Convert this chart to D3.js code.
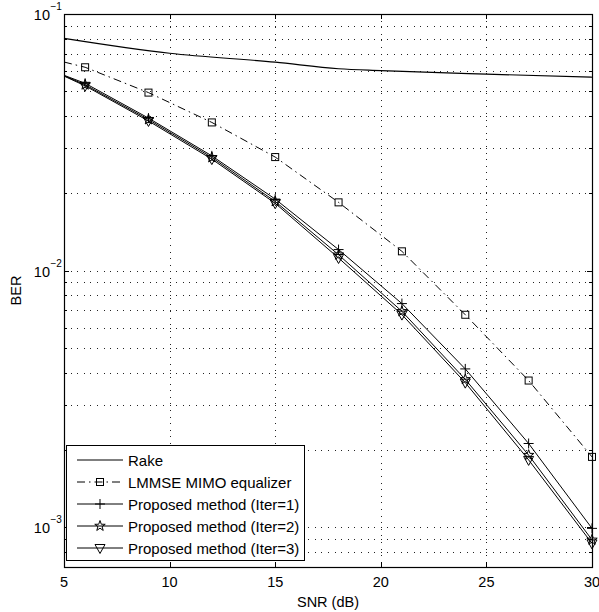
<!DOCTYPE html>
<html><head><meta charset="utf-8">
<script src="https://cdn.jsdelivr.net/npm/d3@7"></script>
<style>body{margin:0;background:#fff}svg{display:block}text{font-family:"Liberation Sans",Arial,sans-serif;fill:#000}</style>
</head><body><svg id="c" width="599" height="612"></svg>
<script>
// ---- data ----
const rakeSNR = [5, 10, 15, 18, 20, 25, 30];
const rakeBER = [0.0804, 0.0703, 0.0649, 0.0612, 0.0602, 0.0583, 0.0567];
const snr = [5, 6, 9, 12, 15, 18, 21, 24, 27, 30];
const lmmseBER = [0.0650, 0.0620, 0.0494, 0.0378, 0.0277, 0.01845, 0.01189, 0.00673, 0.00373, 0.00188];
const iter1BER = [0.0577, 0.0537, 0.0393, 0.0280, 0.0190, 0.01208, 0.00744, 0.00414, 0.00212, 0.00099];
const iter2BER = [0.0575, 0.0530, 0.0388, 0.0276, 0.0186, 0.01153, 0.00694, 0.00377, 0.00191, 0.000893];
const iter3BER = [0.0573, 0.0525, 0.0383, 0.0272, 0.0183, 0.01120, 0.00674, 0.00366, 0.00183, 0.000865];
const xTicks = [5, 10, 15, 20, 25, 30];
const yDecades = [-3, -2, -1];
const legendLabels = ["Rake", "LMMSE MIMO equalizer", "Proposed method (Iter=1)", "Proposed method (Iter=2)", "Proposed method (Iter=3)"];
const xLabel = "SNR (dB)", yLabel = "BER";

// ---- layout ----
const L = 64, R = 592, T = 14, B = 567;
const svg = d3.select("#c");
const x = d3.scaleLinear().domain([5, 30]).range([L, R]);
const y = d3.scaleLog().domain([7e-4, 0.1]).range([B, T]);

// grid
const minorY = [];
[-4, -3, -2].forEach(e => { for (let k = 1; k <= 9; k++) { const v = k * Math.pow(10, e); if (v >= 7e-4 && v <= 0.1) minorY.push(v); } });
const grid = svg.append("g").attr("stroke", "#222").attr("stroke-width", 1).attr("stroke-dasharray", "1,5.6").attr("shape-rendering", "crispEdges");
grid.selectAll("line.gy").data(minorY).join("line").attr("x1", L).attr("x2", R)
  .attr("y1", d => Math.round(y(d)) + 0.5).attr("y2", d => Math.round(y(d)) + 0.5);
grid.selectAll("line.gx").data(xTicks.slice(1, -1)).join("line").attr("y1", T).attr("y2", B)
  .attr("x1", d => Math.round(x(d)) + 0.5).attr("x2", d => Math.round(x(d)) + 0.5);

// axes ticks (inside)
const ax = svg.append("g").attr("stroke", "#000").attr("stroke-width", 1).attr("shape-rendering", "crispEdges");
xTicks.forEach(d => {
  const px = Math.round(x(d)) + 0.5;
  ax.append("line").attr("x1", px).attr("x2", px).attr("y1", B).attr("y2", B - 5);
  ax.append("line").attr("x1", px).attr("x2", px).attr("y1", T).attr("y2", T + 5);
});
minorY.forEach(d => {
  const py = Math.round(y(d)) + 0.5;
  const major = Math.abs(Math.log10(d) - Math.round(Math.log10(d))) < 1e-9;
  const len = major ? 5 : 3;
  ax.append("line").attr("x1", L).attr("x2", L + len).attr("y1", py).attr("y2", py);
  ax.append("line").attr("x1", R).attr("x2", R - len).attr("y1", py).attr("y2", py);
});
svg.append("rect").attr("x", L + 0.5).attr("y", T + 0.5).attr("width", R - L).attr("height", B - T)
  .attr("fill", "none").attr("stroke", "#000").attr("stroke-width", 1.2);

// tick labels
svg.append("g").selectAll("text").data(xTicks).join("text")
  .attr("x", d => x(d)).attr("y", 587).attr("text-anchor", "middle").attr("font-size", 14.5).text(d => d);
yDecades.forEach(e => {
  const py = y(Math.pow(10, e));
  svg.append("text").attr("x", 50).attr("y", py + 6).attr("text-anchor", "end").attr("font-size", 14.5).text("10");
  svg.append("text").attr("x", 50.5).attr("y", py - 4).attr("font-size", 10).text("\u2212" + (-e));
});
svg.append("text").attr("x", (L + R) / 2).attr("y", 607).attr("text-anchor", "middle").attr("font-size", 14.5).text(xLabel);
svg.append("text").attr("transform", `translate(21,${(T + B) / 2}) rotate(-90)`).attr("text-anchor", "middle").attr("font-size", 14.5).text(yLabel);

// markers
function marker(g, type, cx, cy) {
  if (type === "square") g.append("rect").attr("x", cx - 3.5).attr("y", cy - 3.5).attr("width", 7).attr("height", 7).attr("fill", "none").attr("stroke", "#000");
  else if (type === "plus") g.append("path").attr("d", `M${cx - 5},${cy}H${cx + 5}M${cx},${cy - 5}V${cy + 5}`).attr("stroke", "#000").attr("fill", "none");
  else if (type === "star") {
    const pts = [];
    for (let i = 0; i < 10; i++) { const r = i % 2 ? 2.2 : 5.5; const a = -Math.PI / 2 + i * Math.PI / 5; pts.push([cx + r * Math.cos(a), cy + r * Math.sin(a)]); }
    g.append("path").attr("d", "M" + pts.join("L") + "Z").attr("fill", "none").attr("stroke", "#000");
  } else if (type === "tri") g.append("path").attr("d", `M${cx - 5},${cy - 3.5}L${cx + 5},${cy - 3.5}L${cx},${cy + 5.5}Z`).attr("fill", "none").attr("stroke", "#000");
}

const series = [
  { xs: rakeSNR, ys: rakeBER, dash: null, m: null, w: 1.2, curve: d3.curveMonotoneX },
  { xs: snr, ys: lmmseBER, dash: "8,4,1.5,4", m: "square", w: 1, curve: d3.curveLinear },
  { xs: snr, ys: iter1BER, dash: null, m: "plus", w: 1, curve: d3.curveLinear },
  { xs: snr, ys: iter2BER, dash: null, m: "star", w: 1, curve: d3.curveLinear },
  { xs: snr, ys: iter3BER, dash: null, m: "tri", w: 1, curve: d3.curveLinear }
];
const plot = svg.append("g");
series.forEach(s => {
  const pts = s.xs.map((v, i) => [v, s.ys[i]]);
  const line = d3.line().x(d => x(d[0])).y(d => y(d[1])).curve(s.curve);
  plot.append("path").attr("d", line(pts)).attr("fill", "none").attr("stroke", "#000").attr("stroke-width", s.w)
    .attr("stroke-dasharray", s.dash);
  if (s.m) pts.filter(p => p[0] !== 5).forEach(p => marker(plot, s.m, x(p[0]), y(p[1])));
});

// legend
const lg = svg.append("g");
lg.append("rect").attr("x", 66.5).attr("y", 445.5).attr("width", 238).attr("height", 115).attr("fill", "#fff").attr("stroke", "#000");
const rowY = [460, 482, 504, 526, 548];
series.forEach((s, i) => {
  const yy = rowY[i];
  lg.append("line").attr("x1", 77).attr("x2", 123).attr("y1", yy).attr("y2", yy).attr("stroke", "#000").attr("stroke-width", s.w).attr("stroke-dasharray", s.dash);
  if (s.m) marker(lg, s.m, 100, yy);
  lg.append("text").attr("x", 128).attr("y", yy + 5.5).attr("font-size", 15).text(legendLabels[i]);
});
</script></body></html>
